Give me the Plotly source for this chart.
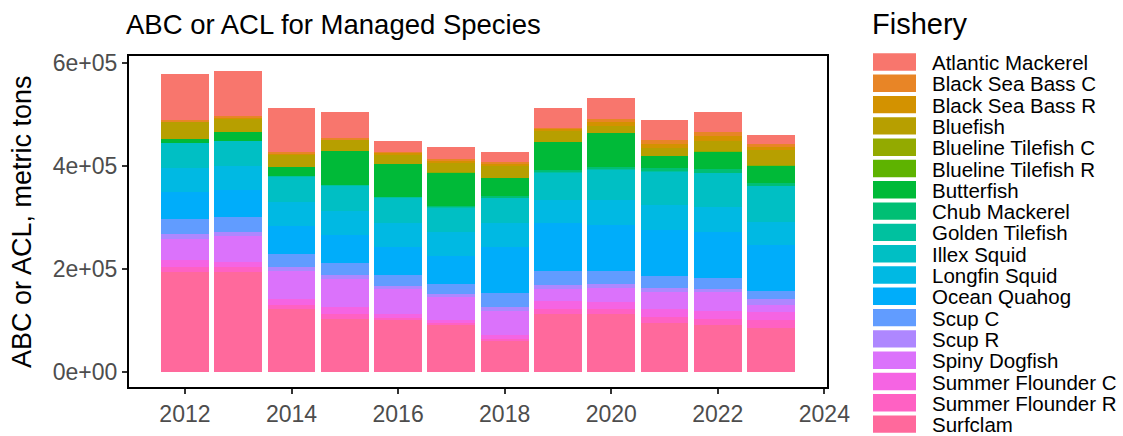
import math

import plotly.graph_objects as go

years = list(range(2012, 2024))

species = [
    "Atlantic Mackerel", "Black Sea Bass C", "Black Sea Bass R", "Bluefish",
    "Blueline Tilefish C", "Blueline Tilefish R", "Butterfish", "Chub Mackerel",
    "Golden Tilefish", "Illex Squid", "Longfin Squid", "Ocean Quahog",
    "Scup C", "Scup R", "Spiny Dogfish", "Summer Flounder C",
    "Summer Flounder R", "Surfclam",
]

atlantic_mackerel = [89200, 87900, 86600, 51300, 22500, 23100, 20500, 38500, 39800, 38500, 37900, 17300]
black_sea_bass_c = [1500, 1600, 2200, 1600, 1500, 2600, 3900, 1900, 6400, 7700, 7700, 5800]
black_sea_bass_r = [1500, 1600, 2300, 1600, 4000, 5800, 3900, 3200, 7700, 7700, 9600, 6400]
bluefish = [32100, 26300, 24400, 22500, 18000, 18000, 21800, 21800, 12800, 15400, 20500, 29500]
blueline_tilefish_c = [0, 0, 0, 0, 0, 100, 100, 100, 100, 100, 100, 100]
blueline_tilefish_r = [0, 0, 0, 0, 0, 100, 100, 100, 100, 100, 100, 100]
butterfish = [7700, 17300, 17300, 65500, 62900, 64200, 35900, 55200, 66100, 23100, 34700, 34700]
chub_mackerel = [0, 0, 0, 0, 0, 2300, 1700, 2300, 3600, 5500, 6200, 3600]
golden_tilefish = [900, 900, 900, 900, 900, 900, 900, 900, 900, 900, 900, 900]
illex_squid = [49400, 49400, 49400, 50000, 50000, 48100, 50000, 53300, 60300, 66700, 66700, 69900]
longfin_squid = [46200, 46200, 46200, 46200, 46200, 46200, 46200, 46200, 48100, 47500, 47500, 44900]
ocean_quahog = [52600, 52600, 54500, 53900, 54500, 54500, 89800, 92400, 89200, 89200, 88600, 88600]
scup_c = [28900, 28900, 25000, 23100, 21200, 18600, 27000, 27000, 24400, 22500, 21200, 17300]
scup_r = [9600, 7100, 7100, 7700, 5800, 6400, 7700, 7700, 8300, 7700, 5800, 10300]
spiny_dogfish = [40400, 50000, 54500, 55200, 48100, 45600, 46200, 24400, 26300, 34700, 37200, 14800]
summer_flounder_c = [13500, 10300, 12800, 12200, 8000, 4500, 7700, 14100, 14100, 14100, 16700, 15400]
summer_flounder_r = [9600, 9600, 7100, 9600, 5000, 3000, 3900, 10300, 9600, 11600, 11600, 15400]
surfclam = [193800, 193800, 121900, 103300, 100100, 92400, 59700, 112300, 112900, 95600, 90500, 84700]

values = [
    atlantic_mackerel, black_sea_bass_c, black_sea_bass_r, bluefish,
    blueline_tilefish_c, blueline_tilefish_r, butterfish, chub_mackerel,
    golden_tilefish, illex_squid, longfin_squid, ocean_quahog,
    scup_c, scup_r, spiny_dogfish, summer_flounder_c,
    summer_flounder_r, surfclam,
]

y_tickvals = [0, 200000, 400000, 600000]
y_ticktext = ["0e+00", "2e+05", "4e+05", "6e+05"]
x_tickvals = [2012, 2014, 2016, 2018, 2020, 2022, 2024]

FONT = "Liberation Sans"
W, H = 1123, 436
# plot panel in pixels
PL, PR, PT, PB = 129, 827, 56, 387


def hcl_hex(h, c=100, l=65):
    # ggplot2 hue palette colour (polar Luv -> sRGB)
    hr = math.radians(h)
    u, v = c * math.cos(hr), c * math.sin(hr)
    xn, yn, zn = 95.047, 100.0, 108.883
    un = 4 * xn / (xn + 15 * yn + 3 * zn)
    vn = 9 * yn / (xn + 15 * yn + 3 * zn)
    y = yn * ((l + 16) / 116) ** 3
    up = u / (13 * l) + un
    vp = v / (13 * l) + vn
    x = y * 9 * up / (4 * vp)
    z = y * (12 - 3 * up - 20 * vp) / (4 * vp)
    x, y, z = x / 100, y / 100, z / 100
    rgb = [
        3.2404542 * x - 1.5371385 * y - 0.4985314 * z,
        -0.9692660 * x + 1.8760108 * y + 0.0415560 * z,
        0.0556434 * x - 0.2040259 * y + 1.0572252 * z,
    ]
    out = []
    for ch in rgb:
        ch = 12.92 * ch if ch <= 0.0031308 else 1.055 * ch ** (1 / 2.4) - 0.055
        out.append(int(round(min(max(ch, 0), 1) * 255)))
    return "#%02X%02X%02X" % tuple(out)


n = len(species)
colors = [hcl_hex(15 + 360 * i / n) for i in range(n)]

fig = go.Figure()
# ggplot stacks the first level on top, so add from the last level upward
for name, vals, col in reversed(list(zip(species, values, colors))):
    fig.add_trace(go.Bar(
        x=years, y=vals, name=name,
        marker=dict(color=col, line=dict(width=0)),
        showlegend=False,
    ))

totals = [sum(v[i] for v in values) for i in range(len(years))]
ymax = max(totals)


def px_x(p):
    return (p - PL) / (PR - PL)


def px_y(p):
    return (PB - p) / (PB - PT)


# legend drawn by hand so the keys have ggplot's size
for i, (name, col) in enumerate(zip(species, colors)):
    top = 53.3 + 21.3 * i
    fig.add_shape(
        type="rect", xref="paper", yref="paper",
        x0=px_x(873), x1=px_x(916), y0=px_y(top + 17.4), y1=px_y(top),
        fillcolor=col, line=dict(width=0),
    )
    fig.add_annotation(
        xref="paper", yref="paper", x=px_x(930), y=px_y(top + 9.2),
        text=name, showarrow=False, xanchor="left", yanchor="middle",
        font=dict(family=FONT, size=20.5, color="black"),
    )
fig.add_annotation(
    xref="paper", yref="paper", x=px_x(870), y=px_y(24),
    text="Fishery", showarrow=False, xanchor="left", yanchor="middle",
    font=dict(family=FONT, size=29, color="black"),
)
fig.add_annotation(
    xref="paper", yref="paper", x=px_x(22), y=px_y(222),
    text="ABC or ACL, metric tons", showarrow=False, textangle=-90,
    xanchor="center", yanchor="middle",
    font=dict(family=FONT, size=27, color="black"),
)

fig.update_layout(
    barmode="stack",
    bargap=0.1,
    width=W, height=H,
    margin=dict(l=PL, r=W - PR, t=PT, b=H - PB),
    plot_bgcolor="white",
    paper_bgcolor="white",
    font=dict(family=FONT, color="black"),
    title=dict(
        text="ABC or ACL for Managed Species",
        x=126 / W, xanchor="left", y=1 - 24 / H, yanchor="middle",
        font=dict(family=FONT, size=27.5, color="black"),
    ),
    showlegend=False,
)
fig.update_xaxes(
    range=[2010.95, 2024.05],
    tickvals=x_tickvals,
    automargin=False,
    showgrid=False, zeroline=False,
    showline=True, mirror=True, linecolor="black", linewidth=2,
    ticks="outside", ticklen=5, tickwidth=1.5, tickcolor="#333333",
    tickfont=dict(family=FONT, size=23, color="#4D4D4D"),
)
fig.update_yaxes(
    range=[-0.05 * ymax, 1.05 * ymax],
    tickvals=y_tickvals, ticktext=y_ticktext,
    automargin=False,
    showgrid=False, zeroline=False,
    showline=True, mirror=True, linecolor="black", linewidth=2,
    ticks="outside", ticklen=5, tickwidth=1.5, tickcolor="#333333",
    tickfont=dict(family=FONT, size=23, color="#4D4D4D"),
)

# drop the browser's default body margin so the figure sits at (0, 0)
fig.write_html(
    "out.html",
    config={"displayModeBar": False},
    post_script="document.body.style.margin = '0';",
)
